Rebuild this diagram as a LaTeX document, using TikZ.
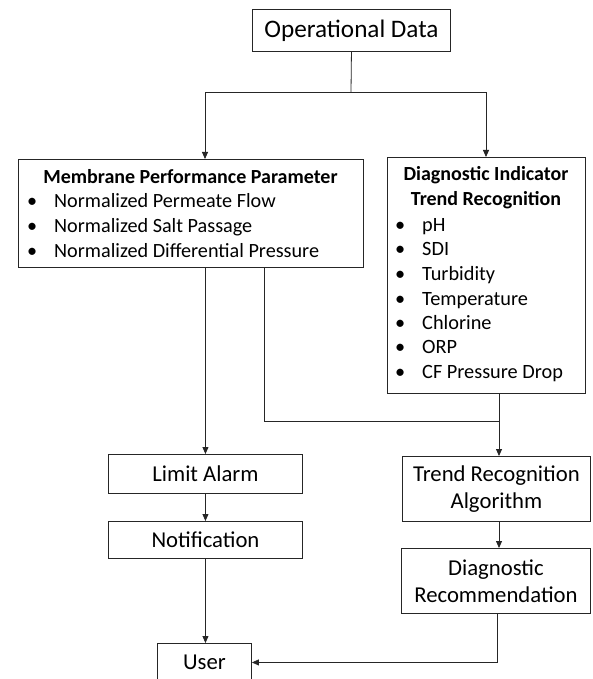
\documentclass[tikz,border=0pt]{standalone}
\usepackage{fontspec}
\setmainfont{Carlito}
\usetikzlibrary{arrows.meta}
\begin{document}
\begin{tikzpicture}[x=1pt,y=-1pt,
  box/.style={draw=black!85, line width=0.9pt, inner sep=0pt, anchor=north west, align=center},
  lin/.style={draw=black!85, line width=0.8pt},
  arr/.style={lin, -{Triangle[width=6pt,length=7pt]}},
  bigtxt/.style={font=\fontsize{22.7}{27}\selectfont},
  itemL/.style={inner sep=0pt, anchor=base west, font=\fontsize{20.2}{24}\selectfont},
  itemR/.style={inner sep=0pt, anchor=base west, font=\fontsize{20.3}{24}\selectfont},
  ttl/.style={inner sep=0pt, font=\bfseries\fontsize{20}{24}\selectfont}]
\useasboundingbox (0,0) rectangle (592,679);
\clip (0,0) rectangle (592,679);
\fill[white] (0,0) rectangle (592,679);

% boxes
\node[box, minimum width=198pt, minimum height=42pt, font=\fontsize{25.2}{28}\selectfont] (op) at (252,9) {Operational Data};
\node[box, minimum width=345pt, minimum height=108pt] (mpp) at (18,159) {};
\node[box, minimum width=198pt, minimum height=236pt] (dit) at (387,157) {};
\node[box, minimum width=194pt, minimum height=39pt, bigtxt] (la) at (108,454) {Limit Alarm};
\node[box, minimum width=194pt, minimum height=37pt, bigtxt] (no) at (108,521) {Notification};
\node[box, minimum width=188pt, minimum height=65pt, bigtxt] (tra) at (402,456) {Trend Recognition\\Algorithm};
\node[box, minimum width=189pt, minimum height=65pt, bigtxt] (dr) at (401,548) {Diagnostic\\Recommendation};
\node[box, minimum width=94pt, minimum height=38pt, bigtxt] (user) at (157,643) {User};

% membrane box text
\node[ttl] (mppt) at (190.5,177) {Membrane Performance Parameter};
\foreach \y/\t [count=\i] in {207/Normalized Permeate Flow, 232/Normalized Salt Passage, 257/Normalized Differential Pressure}{
  \node[itemL] (mb\i) at (27,\y) {•};
  \node[itemL] (mi\i) at (54,\y) {\t};
}
% diagnostic box text
\node[ttl] (ditt1) at (486,175) {Diagnostic Indicator};
\node[ttl] (ditt2) at (486,200) {Trend Recognition};
\foreach \y/\t [count=\i] in {231/pH, 255/SDI, 280/Turbidity, 305/Temperature, 329/Chlorine, 353/ORP, 378/CF Pressure Drop}{
  \node[itemR] (db\i) at (395,\y) {•};
  \node[itemR] (di\i) at (422,\y) {\t};
}

% connectors
\coordinate (split) at (351,92);
\coordinate (mppin) at (205,159);
\coordinate (ditin) at (486,157);
\coordinate (mppout) at (264,267);
\coordinate (join) at (499,421);
\coordinate (drout) at (497,613);
\draw[lin] (op.south) -- (split);
\draw[arr] (split) -| (mppin);
\draw[arr] (split) -| (ditin);
\draw[arr] (mpp.south -| la.north) -- (la.north);
\draw[lin] (mppout) |- (join);
\draw[arr] (dit.south -| join) -- (tra.north -| join);
\draw[arr] (tra.south -| join) -- (dr.north -| join);
\draw[arr] (la.south) -- (no.north);
\draw[arr] (no.south) -- (no.south |- user.north);
\draw[arr] (drout) |- (user.east);
\end{tikzpicture}
\end{document}
